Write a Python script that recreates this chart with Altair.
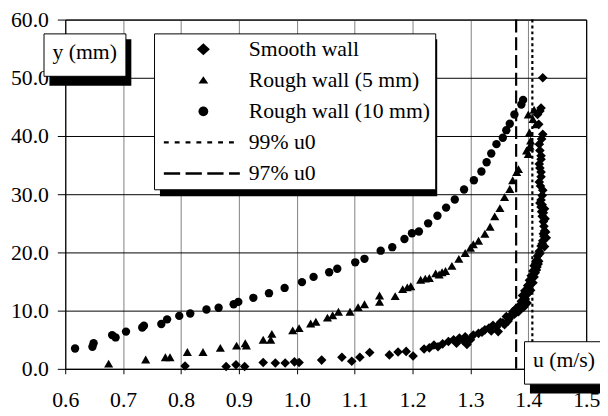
import altair as alt
import pandas as pd

# ---------------- data ----------------
smooth_u = [0.807, 0.878, 0.895, 0.910, 0.942, 0.963, 0.980, 0.996, 1.004, 1.043,
            1.078, 1.095, 1.109, 1.126, 1.160, 1.175, 1.189, 1.201, 1.220, 1.237,
            1.252, 1.262, 1.271, 1.281, 1.291, 1.294, 1.305, 1.314, 1.325, 1.332,
            1.339, 1.348, 1.352, 1.356, 1.362, 1.367, 1.370, 1.373, 1.378, 1.381,
            1.385, 1.388, 1.392, 1.390, 1.398, 1.395, 1.394, 1.404, 1.399, 1.402,
            1.408, 1.405, 1.412, 1.408, 1.415, 1.410, 1.413, 1.418, 1.416, 1.420,
            1.419, 1.422, 1.424, 1.425, 1.427, 1.426, 1.428, 1.427, 1.426, 1.426,
            1.424, 1.423, 1.424, 1.422, 1.420, 1.422, 1.424, 1.425, 1.421, 1.419,
            1.422, 1.422, 1.420, 1.419, 1.422, 1.422, 1.420, 1.419, 1.423, 1.425,
            1.418, 1.416, 1.420, 1.422, 1.425,
            1.396, 1.400, 1.406, 1.410, 1.414, 1.417, 1.392, 1.387, 1.383, 1.376,
            1.365, 1.359, 1.345, 1.336, 1.320, 1.300, 1.287, 1.276, 1.244, 1.229,
            1.430, 1.429, 1.431, 1.428, 1.428]
smooth_y = [0.5, 0.4, 0.7, 0.4, 1.1, 1.0, 1.0, 1.2, 1.1, 1.5,
            2.0, 1.3, 2.0, 2.8, 2.4, 2.9, 3.0, 2.2, 3.4, 4.1,
            4.3, 4.7, 5.0, 5.3, 5.5, 4.2, 5.8, 6.1, 6.7, 7.0,
            7.5, 6.4, 8.0, 7.9, 9.0, 8.6, 9.2, 9.8, 10.3, 10.0,
            10.9, 11.6, 10.6, 12.6, 11.3, 12.0, 13.4, 13.5, 14.3, 15.2,
            14.8, 16.0, 16.5, 16.8, 17.5, 17.7, 18.5, 18.5, 19.4, 19.8,
            20.2, 21.1, 21.5, 22.0, 22.8, 23.2, 23.7, 24.5, 25.3, 26.8,
            26.2, 27.0, 28.2, 27.8, 28.5, 29.0, 29.8, 30.7, 31.4, 32.1,
            33.0, 33.8, 34.5, 35.2, 36.0, 36.6, 37.5, 38.6, 39.5, 40.3,
            42.0, 43.7, 44.3, 44.8, 50.0,
            12.8, 13.0, 15.5, 15.8, 17.0, 18.0, 11.8, 10.4, 9.8, 9.4,
            8.2, 7.6, 7.2, 6.5, 6.3, 5.0, 4.9, 4.4, 3.8, 3.6,
            23.5, 25.8, 22.5, 21.0, 27.5]

rough5_u = [0.675, 0.739, 0.773, 0.781, 0.811, 0.838, 0.868, 0.896, 0.911, 0.913,
            0.942, 0.957, 0.955, 0.993, 1.004, 1.024, 1.033, 1.053, 1.062, 1.072,
            1.092, 1.106, 1.117, 1.143, 1.143, 1.170, 1.183, 1.191, 1.197, 1.214,
            1.222, 1.229, 1.240, 1.246, 1.251, 1.257, 1.268, 1.280, 1.291, 1.300,
            1.305, 1.314, 1.325, 1.334, 1.342, 1.351, 1.359, 1.368, 1.373, 1.380,
            1.383, 1.400, 1.397, 1.403, 1.402, 1.404, 1.402, 1.408, 1.400, 1.410,
            1.413]
rough5_y = [0.9, 1.6, 2.0, 2.0, 2.9, 2.9, 3.6, 4.0, 4.4, 4.0,
            5.0, 6.0, 5.0, 6.6, 7.0, 7.8, 8.1, 8.8, 9.2, 9.8,
            9.8, 10.6, 11.1, 11.5, 12.6, 12.5, 13.7, 14.0, 14.2, 15.3,
            15.5, 15.6, 16.4, 16.2, 16.6, 16.8, 17.7, 18.9, 19.9, 20.8,
            21.4, 22.0, 23.2, 24.4, 26.2, 27.6, 29.5, 30.9, 32.4, 33.8,
            34.3, 36.9, 37.5, 38.3, 38.0, 39.2, 40.6, 42.9, 43.7, 44.5,
            42.0]

rough10_u = [0.617, 0.647, 0.649, 0.681, 0.687, 0.705, 0.733, 0.736, 0.766, 0.776,
             0.797, 0.816, 0.844, 0.865, 0.891, 0.899, 0.925, 0.952, 0.979, 1.009,
             1.029, 1.056, 1.070, 1.101, 1.117, 1.145, 1.165, 1.186, 1.199, 1.211,
             1.227, 1.243, 1.258, 1.273, 1.289, 1.306, 1.319, 1.328, 1.336, 1.345,
             1.356, 1.362, 1.368, 1.376, 1.388, 1.391]
rough10_y = [3.5, 3.8, 4.4, 5.8, 5.4, 6.4, 7.1, 7.4, 7.7, 8.5,
             9.1, 9.5, 10.2, 10.5, 11.1, 11.5, 12.2, 13.0, 13.9, 14.9,
             15.8, 16.6, 17.2, 18.3, 18.9, 20.3, 20.9, 22.3, 23.3, 23.6,
             25.0, 26.3, 27.7, 29.1, 30.8, 32.4, 33.9, 35.5, 37.0, 38.6,
             39.7, 41.0, 42.1, 43.7, 45.4, 46.2]

series_names = ["Smooth wall", "Rough wall (5 mm)", "Rough wall (10 mm)"]
ref_labels = ["99% u0", "97% u0"]
ref_u = [1.407, 1.379]
x_ticks = [0.6, 0.7, 0.8, 0.9, 1.0, 1.1, 1.2, 1.3, 1.4, 1.5]
y_ticks = [0, 10, 20, 30, 40, 50, 60]
y_title = ["y (mm)"]
x_title = ["u (m/s)"]

FONT = "Liberation Serif, Times New Roman, serif"

# ---------------- scales / axes ----------------
x_enc = alt.X("u:Q",
              scale=alt.Scale(domain=[0.6, 1.5], nice=False, zero=False),
              axis=alt.Axis(values=x_ticks, format=".1f", title=None,
                            labelFont=FONT, labelFontSize=22, labelColor="black",
                            labelPadding=16, labelFlush=False, labelOverlap=False,
                            tickSize=5, tickColor="black", domainColor="black",
                            gridColor={"condition": {"test": "datum.value >= 1.5", "value": "black"},
                                       "value": "#808080"},
                            gridOpacity=1))
y_enc = alt.Y("y:Q",
              scale=alt.Scale(domain=[0, 60], nice=False, zero=False),
              axis=alt.Axis(values=y_ticks, format=".1f", title=None,
                            labelFont=FONT, labelFontSize=22, labelColor="black",
                            labelPadding=9, labelFlush=False, labelOverlap=False,
                            tickSize=8, tickColor="black", domainColor="black",
                            gridColor="black", gridOpacity=1))

# ---------------- reference lines ----------------
ref_df = pd.DataFrame({"u": ref_u, "label": ref_labels})
rules = alt.Chart(ref_df).mark_rule(color="black", strokeWidth=2.2).encode(
    x=x_enc,
    strokeDash=alt.StrokeDash("label:N",
                              scale=alt.Scale(domain=ref_labels, range=[[3, 3], [13, 5]]),
                              legend=None),
)

def points(us, ys, shape, size):
    df = pd.DataFrame({"u": us, "y": ys})
    return alt.Chart(df).mark_point(shape=shape, filled=True, color="black",
                                    opacity=1, size=size, strokeWidth=0).encode(x=x_enc, y=y_enc)

smooth = points(smooth_u, smooth_y, "diamond", 95)
rough5 = points(rough5_u, rough5_y, "triangle-up", 85)
rough10 = points(rough10_u, rough10_y, "circle", 72)

# ---------------- legend symbol paths (unit = half symbol size) ----------------
def dash_path(start, end, dash, gap, half):
    parts = []
    x = start
    while x < end - 1e-9:
        x2 = min(x + dash, end)
        parts.append(f"M{x:.3f},{-half}H{x2:.3f}V{half}H{x:.3f}Z")
        x += dash + gap
    return "".join(parts)

diamond_p = "M-0.6,0L0,-0.55L0.6,0L0,0.55Z"
triangle_p = "M0,-0.36L0.45,0.3L-0.45,0.3Z"
circle_p = "M0.45,0A0.45,0.45,0,1,1,-0.45,0A0.45,0.45,0,1,1,0.45,0Z"
dotted_p = dash_path(-3.64, 3.36, 0.45, 0.55, 0.1)
dashed_p = dash_path(-3.64, 3.36, 1.5, 0.5, 0.12)
blank_p = "M0,-31V31"


def legend_layer(labels, paths, lx, ly, size, sym_offset, lab_offset, pad, row_pad):
    df = pd.DataFrame({"k": labels})
    return alt.Chart(df).transform_filter("false").mark_point(
        filled=True, color="black", opacity=1, strokeWidth=0
    ).encode(
        shape=alt.Shape("k:N", scale=alt.Scale(domain=labels, range=paths),
                        legend=alt.Legend(title=None, orient="none", legendX=lx, legendY=ly,
                                          fillColor="white", strokeColor="black", padding=pad,
                                          rowPadding=row_pad, symbolSize=size,
                                          symbolOffset=sym_offset, labelOffset=lab_offset,
                                          labelFont=FONT, labelFontSize=22,
                                          labelColor="black", labelLimit=600,
                                          symbolFillColor="black", symbolStrokeWidth=0))
    )


# decorative drop shadow behind a framed box (pixel offsets inside the plot frame)
def shadow(x1, x2, y1, y2):
    return alt.Chart(pd.DataFrame({"s": [0]})).mark_rect(color="black", opacity=1).encode(
        x=alt.value(x1), x2=alt.value(x2), y=alt.value(y1), y2=alt.value(y2))


legend_names = series_names + ref_labels
legend_paths = [diamond_p, triangle_p, circle_p, dotted_p, dashed_p]

main_args = dict(size=484, sym_offset=34, lab_offset=35, pad=5, row_pad=9.5)
box_args = dict(size=1, sym_offset=-21, lab_offset=0, pad=8, row_pad=0)

main_legend = legend_layer(legend_names, legend_paths, 90, 14, **main_args)
ybox = legend_layer(y_title, [blank_p], -22, 14, **box_args)
xbox = legend_layer(x_title, [blank_p], 465, 326, **box_args)

shadows = [shadow(96, 377, 20, 179), shadow(-16, 67, 20, 67), shadow(471, 560, 332, 379)]

chart = alt.layer(
    rules, smooth, rough5, rough10, *shadows,
    main_legend, ybox, xbox,
).resolve_scale(shape="independent").resolve_legend(shape="independent").properties(
    width=528, height=354,
    autosize=alt.AutoSizeParams(type="none"),
    padding={"left": 58, "top": 9, "right": 14, "bottom": 41},
    background="white",
).configure_view(stroke="black", strokeWidth=1)

chart.save("out.html", embed_options={"renderer": "svg", "actions": False})
